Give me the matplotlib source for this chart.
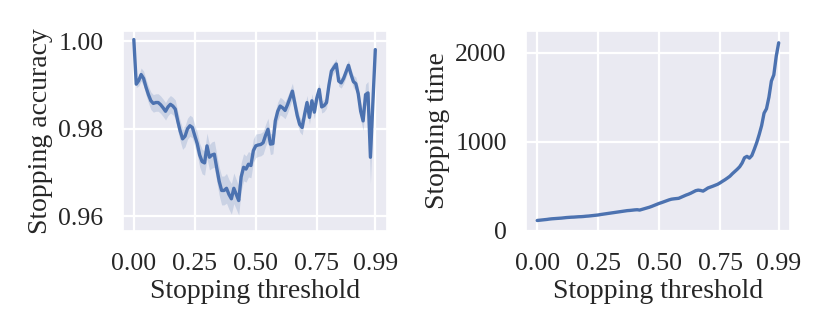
import numpy as np
import matplotlib
matplotlib.use("Agg")
import matplotlib.pyplot as plt
import seaborn as sns

# stopping thresholds 0.00 .. 0.99
thresholds = np.round(np.arange(0, 1.0, 0.01), 2)

accuracy = [
    1.0004, 0.9902, 0.9910, 0.9924, 0.9915, 0.9895, 0.9878, 0.9864, 0.9858, 0.9860,
    0.9860, 0.9855, 0.9848, 0.9840, 0.9850, 0.9856, 0.9852, 0.9845, 0.9818, 0.9795,
    0.9777, 0.9783, 0.9800, 0.9807, 0.9803, 0.9784, 0.9766, 0.9740, 0.9725, 0.9722,
    0.9761, 0.9735, 0.9740, 0.9742, 0.9710, 0.9680, 0.9659, 0.9659, 0.9664, 0.9650,
    0.9640, 0.9664, 0.9650, 0.9636, 0.9690, 0.9712, 0.9708, 0.9719, 0.9716, 0.9750,
    0.9761, 0.9763, 0.9764, 0.9768, 0.9785, 0.9799, 0.9765, 0.9766, 0.9818, 0.9840,
    0.9852, 0.9848, 0.9842, 0.9855, 0.9870, 0.9886, 0.9858, 0.9830, 0.9810, 0.9803,
    0.9833, 0.9860, 0.9826, 0.9864, 0.9838, 0.9870, 0.9890, 0.9850, 0.9853, 0.9860,
    0.9900, 0.9932, 0.9940, 0.9948, 0.9909, 0.9905, 0.9915, 0.9930, 0.9945, 0.9925,
    0.9908, 0.9903, 0.9880, 0.9840, 0.9818, 0.9878, 0.9882, 0.9735, 0.9860, 0.9981,
]

# half width of the confidence band
accuracy_ci = [
    0.0003, 0.0008, 0.0012, 0.0015, 0.0017, 0.0018, 0.0019, 0.0020, 0.0020, 0.0020,
    0.0020, 0.0020, 0.0020, 0.0020, 0.0020, 0.0020, 0.0020, 0.0021, 0.0022, 0.0023,
    0.0024, 0.0024, 0.0024, 0.0024, 0.0024, 0.0025, 0.0026, 0.0027, 0.0028, 0.0028,
    0.0029, 0.0029, 0.0030, 0.0030, 0.0031, 0.0032, 0.0033, 0.0033, 0.0034, 0.0034,
    0.0035, 0.0035, 0.0034, 0.0033, 0.0032, 0.0031, 0.0030, 0.0029, 0.0028, 0.0027,
    0.0027, 0.0026, 0.0026, 0.0026, 0.0025, 0.0025, 0.0024, 0.0023, 0.0022, 0.0021,
    0.0020, 0.0020, 0.0019, 0.0019, 0.0018, 0.0018, 0.0018, 0.0018, 0.0017, 0.0017,
    0.0017, 0.0016, 0.0016, 0.0016, 0.0015, 0.0015, 0.0014, 0.0014, 0.0014, 0.0013,
    0.0013, 0.0013, 0.0012, 0.0012, 0.0012, 0.0012, 0.0012, 0.0012, 0.0012, 0.0013,
    0.0014, 0.0015, 0.0017, 0.0020, 0.0022, 0.0024, 0.0026, 0.0060, 0.0040, 0.0008,
]

stop_time = [
    115, 118, 121, 124, 127, 131, 134, 136, 138, 140,
    142, 145, 148, 150, 152, 153, 155, 157, 158, 160,
    163, 165, 168, 171, 174, 177, 182, 186, 190, 194,
    198, 202, 206, 210, 214, 218, 222, 226, 228, 231,
    234, 236, 232, 240, 248, 256, 264, 274, 285, 296,
    307, 316, 326, 336, 346, 354, 358, 361, 364, 376,
    388, 400, 410, 422, 436, 450, 456, 452, 445, 462,
    480, 490, 500, 511, 522, 538, 556, 573, 592, 612,
    640, 665, 690, 718, 760, 820, 835, 815, 845, 915,
    990, 1080, 1180, 1320, 1370, 1500, 1680, 1750, 1960, 2110,
]

xticks = [0.0, 0.25, 0.5, 0.75, 0.99]
xtick_labels = ["0.00", "0.25", "0.50", "0.75", "0.99"]

sns.set_theme(style="darkgrid")
plt.rcParams["font.family"] = ["Liberation Serif", "DejaVu Serif"]

TICK_FS = 18.5
LABEL_FS = 20
blue = "#4c72b0"

fig = plt.figure(figsize=(8.3, 3.32), dpi=100)
ax1 = fig.add_axes([0.148, 0.305, 0.318, 0.601])
ax2 = fig.add_axes([0.634, 0.305, 0.318, 0.601])

acc = np.array(accuracy)
ci = np.array(accuracy_ci)
ax1.fill_between(thresholds, acc - ci, acc + ci, color=blue, alpha=0.2, linewidth=0)
ax1.plot(thresholds, acc, color=blue, linewidth=2.4)
ax1.set_ylim(0.9567, 1.0023)
ax1.set_yticks([0.96, 0.98, 1.00])
ax1.set_yticklabels(["0.96", "0.98", "1.00"])
ax1.set_ylabel("Stopping accuracy", fontsize=LABEL_FS, labelpad=4)

ax2.plot(thresholds, stop_time, color=blue, linewidth=2.4)
ax2.set_ylim(30, 2240)
ax2.set_yticks([0, 1000, 2000])
ax2.set_ylabel("Stopping time", fontsize=LABEL_FS, labelpad=4)

for ax in (ax1, ax2):
    ax.set_xlim(-0.045, 1.037)
    ax.set_xticks(xticks)
    ax.set_xticklabels(xtick_labels)
    ax.set_xlabel("Stopping threshold", fontsize=LABEL_FS, labelpad=3)
    ax.tick_params(axis="x", labelsize=TICK_FS, length=0, pad=16)
    ax.tick_params(axis="y", labelsize=TICK_FS, length=0, pad=14)
    ax.grid(color="white", linewidth=1.6)

fig.savefig("out.png", dpi=100)
